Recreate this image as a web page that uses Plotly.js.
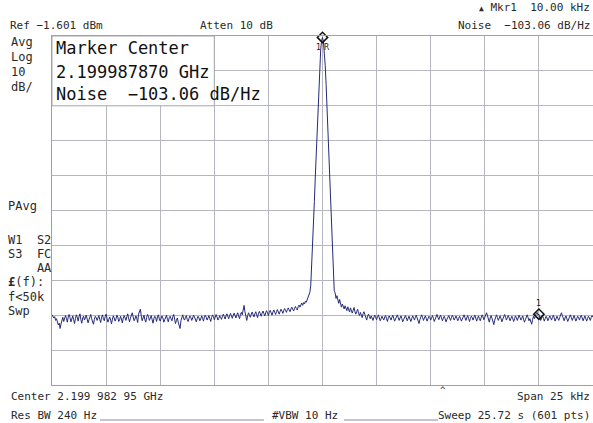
<!DOCTYPE html>
<html>
<head>
<meta charset="utf-8">
<script src="https://cdn.plot.ly/plotly-3.0.1.min.js"></script>
<style>
html,body{margin:0;padding:0;background:#fff;}
#chart{width:593px;height:423px;}
</style>
</head>
<body>
<div id="chart"></div>
<script>
// ---- Instrument settings ----
const centerHz = 2199982950;     // Center 2.199 982 95 GHz
const spanHz = 25000;            // Span 25 kHz
const refLevel = -1.601;         // Ref -1.601 dBm
const dbPerDiv = 10;             // Log 10 dB/
const nDiv = 10;

// ---- Trace amplitudes (dBm) ----
const noiseLeft = [
-81.5,-81.9,-82.4,-82.0,-83.1,-82.6,-83.8,-84.4,-83.9,-85.4,-84.1,-83.0,-82.2,-83.4,-82.8,-81.7,-82.5,-83.6,-82.1,-81.4,
-82.3,-83.5,-82.7,-81.8,-82.9,-84.0,-82.6,-81.5,-82.2,-83.3,-82.0,-81.2,-82.8,-83.9,-82.4,-81.9,-83.0,-82.5,-81.6,-82.7,
-83.8,-82.9,-82.1,-81.4,-82.6,-83.5,-84.2,-82.8,-81.9,-82.3,-83.1,-82.4,-81.7,-82.9,-83.7,-82.2,-81.5,-82.6,-83.2,-82.0,
-81.3,-82.5,-83.6,-82.8,-82.1,-83.0,-84.1,-82.7,-81.8,-82.4,-83.3,-82.6,-81.6,-82.2,-83.4,-82.9,-81.9,-82.7,-83.8,-82.5,
-81.7,-82.3,-83.1,-82.0,-81.2,-82.6,-83.5,-82.4,-81.5,-80.9,-82.1,-83.2,-82.7,-81.8,-82.5,-83.7,-81.3,-80.2,-79.9,-81.8,
-83.2,-82.4,-81.6,-82.9,-83.6,-82.2,-81.4,-82.0,-83.1,-82.5,-81.7,-82.8,-83.9,-82.6,-81.9,-82.3,-83.4,-82.1,-81.5,-82.7,
-83.3,-82.5,-81.8,-82.4,-83.6,-82.9,-82.0,-81.6,-82.8,-83.5,-82.3,-81.9,-82.6,-83.2,-82.1,-81.4,-82.7,-84.0,-83.1,-82.4,
-83.6,-84.5,-85.4,-83.2,-82.0,-81.5,-82.6,-83.0,-82.2,-81.7,-82.9,-83.4,-82.5,-81.8,-82.3,-83.1,-82.4,-81.6,-82.1,-82.8,
-83.5,-82.6,-81.9,-82.4,-83.2,-82.7,-81.8,-82.5,-83.3,-82.1,-81.6,-82.2,-83.0,-82.4,-81.7,-82.6,-83.4,-82.3,-81.5,-82.0,
-82.9,-82.2,-81.4,-82.1,-83.0,-82.5,-81.7,-82.3,-82.8,-81.9,-81.3,-82.0,-82.7,-81.8,-81.2,-81.9,-82.6,-81.7,-81.1,-81.8,
-82.5,-81.6,-81.0,-81.7,-82.4,-81.5,-80.9,-81.8,-82.6,-81.4,-80.8,-81.5,-80.2,-78.8,-80.6,-82.3,-83.1,-81.7,-80.9,-81.6,
-82.2,-81.3,-80.7,-81.4,-82.1,-81.2,-80.6,-81.5,-82.3,-81.1,-80.5,-81.2,-81.9,-81.0,-80.4,-81.1,-81.8,-80.9,-80.3,-81.0,
-81.7,-80.8,-80.2,-80.9,-81.6,-80.7,-80.1,-80.8,-81.4,-80.6,-80.0,-80.7,-81.3,-80.5,-79.9,-80.4,-81.1,-80.3,-79.7,-80.2,
-80.8,-80.0,-79.5,-80.1,-80.6,-79.8,-79.3,-79.9,-80.4,-79.6,-79.1,-79.7,-80.1,-79.2,-78.7,-79.3,-78.6,-78.1,-78.8,-78.0,
-78.4,-77.6,-77.9,-77.0,-76.2,-75.6,-75.0
];
const carrierPeak = [
-73.0,-68.0,-62.0,-56.0,-49.0,-42.0,-35.0,-28.0,-21.5,-15.0,-9.5,-5.5,-3.0,
-2.0,
-3.2,-5.8,-10.0,-15.5,-22.0,-28.5,-35.5,-42.5,-49.5,-56.5,-63.0,-69.0,-74.5
];
const noiseRight = [
-75.2,-76.8,-76.0,-77.4,-78.2,-77.1,-78.6,-79.3,-78.4,-79.0,-79.8,-78.9,-79.6,-80.3,-79.2,-80.1,-80.7,-79.5,-80.4,-81.0,
-80.2,-79.4,-80.6,-81.3,-80.5,-79.9,-81.1,-81.7,-80.8,-81.5,-82.3,-81.2,-80.6,-81.4,-82.1,-83.0,-81.9,-81.3,-82.0,-82.6,
-81.8,-82.4,-83.1,-82.2,-81.6,-82.3,-82.9,-82.0,-81.5,-82.4,-83.2,-82.6,-81.9,-82.5,-83.0,-82.1,-81.7,-82.6,-83.4,-82.3,
-81.8,-82.4,-83.0,-82.2,-81.6,-82.5,-83.3,-82.7,-82.0,-81.5,-82.3,-83.1,-82.4,-81.8,-82.6,-83.5,-82.8,-82.1,-81.7,-82.4,
-83.2,-82.5,-81.9,-82.7,-83.4,-82.6,-81.8,-82.3,-83.0,-82.2,-81.6,-82.4,-83.2,-84.0,-82.9,-82.1,-81.5,-82.3,-83.1,-82.4,
-81.8,-82.5,-83.3,-82.6,-81.9,-82.2,-83.0,-82.3,-81.7,-82.5,-83.4,-82.7,-82.0,-81.4,-82.2,-82.9,-82.1,-81.6,-82.4,-83.2,
-82.5,-81.9,-82.6,-83.5,-82.8,-82.1,-81.7,-82.4,-83.1,-82.3,-81.6,-82.2,-83.0,-82.5,-81.8,-82.4,-83.2,-82.6,-81.9,-82.5,
-83.3,-82.7,-82.0,-81.5,-82.3,-83.1,-82.4,-81.7,-82.5,-83.4,-82.6,-81.9,-82.3,-83.0,-82.2,-81.6,-82.4,-83.3,-82.5,-81.8,
-82.6,-83.2,-82.3,-81.5,-82.1,-82.9,-82.2,-81.6,-80.9,-81.8,-82.7,-83.6,-82.4,-81.7,-82.5,-83.4,-84.3,-83.0,-82.1,-81.5,
-82.3,-83.1,-82.4,-81.8,-82.6,-83.5,-82.7,-82.0,-81.4,-82.2,-83.0,-82.3,-81.7,-82.4,-83.2,-82.5,-81.9,-82.6,-83.4,-82.6,
-81.8,-82.3,-83.1,-82.4,-81.6,-82.2,-83.0,-82.5,-81.8,-82.7,-83.6,-82.9,-82.1,-81.5,-82.3,-83.2,-82.6,-83.7,-84.2,-82.8,
-81.9,-82.6,-81.7,-81.2,-80.8,-81.6,-81.3,-82.2,-83.1,-82.4,-81.7,-82.5,-83.3,-82.6,-81.9,-82.4,-83.2,-82.5,-81.8,-82.3,
-83.0,-82.2,-81.6,-82.4,-83.3,-82.6,-81.9,-82.5,-83.1,-82.3,-81.5,-80.9,-81.7,-82.5,-83.2,-82.4,-81.8,-82.6,-83.4,-82.7,
-82.0,-81.5,-82.3,-83.1,-82.4,-81.7,-82.5,-83.3,-82.6,-81.9,-82.3,-83.0,-82.2,-81.6,-82.4,-83.2,-82.5,-81.8,-82.6,-83.3,
-82.5,-81.9,-82.4,-83.1,-82.3,-81.7,-82.2
];

// Markers: 1R at the carrier, 1 at +10 kHz (sweep point indices)
const markerLabels = ["1\u00a0R", "1"];
const markerIdx = [300, 540];

// ---- Build the sweep ----
const amp = noiseLeft.concat(carrierPeak, noiseRight);
const nPts = amp.length;
const freq = amp.map((_, i) => centerHz + (i - (nPts - 1) / 2) * spanHz / (nPts - 1));
const fStart = centerHz - spanHz / 2, fStop = centerHz + spanHz / 2;
const yTop = refLevel, yBot = refLevel - dbPerDiv * nDiv;

// ---- Pixel helpers for text placement ----
const W = 593, H = 423, mL = 52, mR = 0, mT = 36, mB = 38;
const pw = W - mL - mR, ph = H - mT - mB;
const px = x => (x - mL) / pw;
const py = y => (H - mB - y) / ph;

const FONT = "DejaVu Sans Mono";
const NB = "\u00a0";
function t(text, x, y, xa, size, color) {
  return {text: text, xref: "paper", yref: "paper", x: px(x), y: py(y),
    xanchor: xa || "left", yanchor: "middle", showarrow: false, borderpad: 0,
    font: {family: FONT, size: size || 11, color: color || "#2a2a2a"}};
}

const annotations = [
  t("Ref " + "\u2212" + "1.601 dBm", 9, 25),
  t("Atten 10 dB", 199, 25),
  t("<span style='font-size:8px'>\u25B2</span> Mkr1" + NB + NB + "10.00 kHz", 591, 8, "right"),
  t("Noise" + NB + NB + "\u2212" + "103.06 dB/Hz", 591, 25, "right"),
  t("Avg", 10, 42, "left", 12),
  t("Log", 10, 57, "left", 12),
  t("10", 10, 72, "left", 12),
  t("dB/", 10, 87, "left", 12),
  t("PAvg", 7, 206, "left", 12),
  t("W1" + NB + NB + "S2", 7, 240, "left", 12),
  t("S3" + NB + NB + "FC", 7, 254, "left", 12),
  t(NB + NB + NB + NB + "AA", 7, 268, "left", 12),
  t("<b>\u00a3</b>(f):", 7, 282, "left", 12),
  t("f&lt;50k", 7, 297, "left", 12),
  t("Swp", 7, 311, "left", 12),
  t("Center 2.199 982 95 GHz", 10, 396),
  t("^", 443, 390, "center", 9),
  t("Span 25 kHz", 591, 396, "right"),
  t("Res BW 240 Hz", 10, 415),
  t("#VBW 10 Hz", 271, 415),
  t("Sweep 25.72 s (601 pts)", 591, 415, "right"),
  // marker readout box
  t("Marker Center", 55, 48, "left", 17, "#111"),
  t("2.199987870 GHz", 55, 72, "left", 17, "#111"),
  t("Noise" + NB + NB + "\u2212" + "103.06 dB/Hz", 55, 94, "left", 17, "#111")
];

// marker labels from trace data
markerIdx.forEach((k, j) => {
  annotations.push({text: markerLabels[j], x: freq[k], y: amp[k], xref: "x", yref: "y",
    showarrow: false, yshift: j === 0 ? -10 : 11,
    font: {family: "DejaVu Sans", size: 8, color: "#222"}});
});

const shapes = [
  {type: "rect", xref: "x", yref: "y", x0: fStart, x1: fStart + 3 * spanHz / nDiv,
   y0: yTop - 2 * dbPerDiv, y1: yTop, fillcolor: "#ffffff",
   line: {color: "#a8a8b0", width: 1}, layer: "above"},
  {type: "line", xref: "paper", yref: "paper", x0: px(100), x1: px(264), y0: py(420), y1: py(420),
   line: {color: "#8a8aa8", width: 1}},
  {type: "line", xref: "paper", yref: "paper", x0: px(344), x1: px(438), y0: py(420), y1: py(420),
   line: {color: "#8a8aa8", width: 1}}
];

const traces = [
  {x: freq, y: amp, type: "scatter", mode: "lines",
   line: {color: "#262a78", width: 1}, hoverinfo: "skip", showlegend: false},
  {x: markerIdx.map(k => freq[k]), y: markerIdx.map(k => amp[k]), type: "scatter", mode: "markers",
   marker: {symbol: "diamond-open", size: 8, color: "#111", line: {width: 1.5}},
   cliponaxis: false, hoverinfo: "skip", showlegend: false}
];

const layout = {
  width: W, height: H,
  margin: {l: mL, r: mR, t: mT, b: mB, pad: 0},
  paper_bgcolor: "#ffffff", plot_bgcolor: "#ffffff",
  showlegend: false,
  xaxis: {range: [fStart, fStop], tick0: fStart, dtick: spanHz / nDiv, showgrid: true,
    gridcolor: "#b6b6be", gridwidth: 1, zeroline: false, showticklabels: false, ticks: "",
    showline: true, linecolor: "#a0a0a8", linewidth: 1, mirror: true, fixedrange: true},
  yaxis: {range: [yBot, yTop], tick0: yTop, dtick: dbPerDiv, showgrid: true,
    gridcolor: "#b6b6be", gridwidth: 1, zeroline: false, showticklabels: false, ticks: "",
    showline: true, linecolor: "#a0a0a8", linewidth: 1, mirror: true, fixedrange: true},
  annotations: annotations,
  shapes: shapes,
  hovermode: false
};

Plotly.newPlot("chart", traces, layout, {displayModeBar: false, staticPlot: true});
</script>
</body>
</html>
